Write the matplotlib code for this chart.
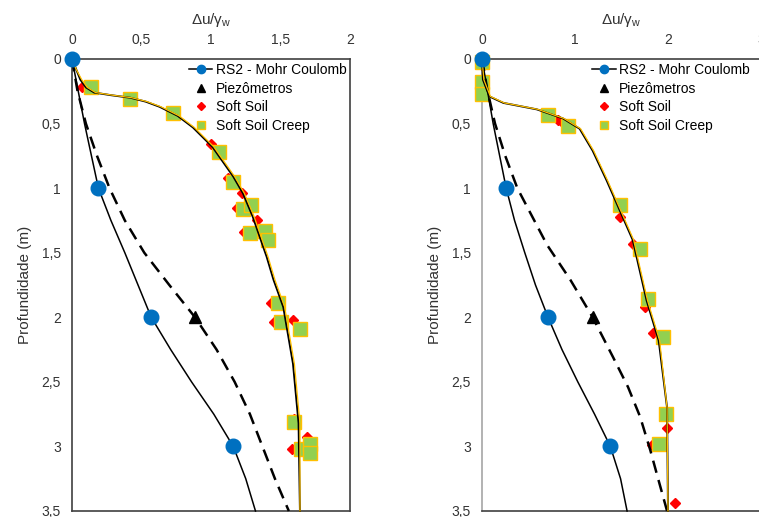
import matplotlib
matplotlib.use("Agg")
import matplotlib.pyplot as plt
from matplotlib.ticker import FixedLocator, FuncFormatter

plt.rcParams['font.family'] = ['Liberation Sans', 'DejaVu Sans']
plt.rcParams['mathtext.default'] = 'regular'

# ---------------- left panel data ----------------
# RS2 - Mohr Coulomb points and curve
L_rs2_pts_x = [0.0, 0.19, 0.57, 1.16]
L_rs2_pts_z = [0.0, 1.0, 2.0, 3.0]
L_rs2_x = [0.0, 0.045, 0.09, 0.14, 0.19, 0.28, 0.38, 0.475, 0.57, 0.71, 0.86, 1.02, 1.16, 1.25, 1.32]
L_rs2_z = [0.0, 0.25, 0.5, 0.75, 1.0, 1.25, 1.5, 1.75, 2.0, 2.25, 2.5, 2.75, 3.0, 3.25, 3.5]

# dashed trend and piezometer reading
L_dash_x = [0.0, 0.04, 0.10, 0.18, 0.27, 0.38, 0.52, 0.70, 0.885, 1.04, 1.17, 1.28, 1.37, 1.46, 1.56]
L_dash_z = [0.0, 0.25, 0.5, 0.75, 1.0, 1.25, 1.5, 1.75, 2.0, 2.25, 2.5, 2.75, 3.0, 3.25, 3.5]
L_piezo_x = [0.885]
L_piezo_z = [2.0]

# Soft Soil / Soft Soil Creep curves
L_ss_x = [0.0, 0.03, 0.06, 0.10, 0.16, 0.28, 0.42, 0.53, 0.63, 0.76, 0.87, 1.01, 1.16, 1.23, 1.30, 1.40, 1.45, 1.52, 1.59, 1.63, 1.64]
L_ss_z = [0.0, 0.08, 0.16, 0.22, 0.26, 0.28, 0.30, 0.33, 0.37, 0.44, 0.53, 0.68, 0.91, 1.04, 1.22, 1.53, 1.71, 1.92, 2.36, 2.82, 3.5]
L_ssc_x = [0.0, 0.03, 0.07, 0.11, 0.17, 0.29, 0.43, 0.54, 0.64, 0.77, 0.88, 1.02, 1.17, 1.24, 1.31, 1.41, 1.46, 1.53, 1.60, 1.64, 1.64]
L_ssc_z = L_ss_z

# markers
L_soft_x = [0.07, 0.74, 1.00, 1.12, 1.22, 1.19, 1.33, 1.24, 1.43, 1.45, 1.59, 1.58, 1.69, 1.60]
L_soft_z = [0.22, 0.40, 0.66, 0.92, 1.04, 1.15, 1.25, 1.34, 1.89, 2.04, 2.02, 3.02, 2.93, 2.79]
L_creep_x = [0.14, 0.42, 0.73, 1.06, 1.16, 1.23, 1.29, 1.28, 1.39, 1.41, 1.48, 1.50, 1.64, 1.60, 1.65, 1.71, 1.71]
L_creep_z = [0.22, 0.31, 0.42, 0.72, 0.95, 1.16, 1.13, 1.35, 1.33, 1.40, 1.89, 2.04, 2.09, 2.81, 3.02, 2.98, 3.05]

# ---------------- right panel data ----------------
R_rs2_pts_x = [0.0, 0.26, 0.71, 1.38]
R_rs2_pts_z = [0.0, 1.0, 2.0, 3.0]
R_rs2_x = [0.0, 0.06, 0.12, 0.19, 0.26, 0.35, 0.46, 0.575, 0.71, 0.86, 1.03, 1.21, 1.38, 1.49, 1.56]
R_rs2_z = [0.0, 0.25, 0.5, 0.75, 1.0, 1.25, 1.5, 1.75, 2.0, 2.25, 2.5, 2.75, 3.0, 3.25, 3.5]

R_dash_x = [0.0, 0.06, 0.14, 0.25, 0.38, 0.70, 0.95, 1.19, 1.41, 1.57, 1.70, 1.81, 1.89, 1.99]
R_dash_z = [0.0, 0.25, 0.5, 0.75, 1.0, 1.44, 1.71, 2.0, 2.31, 2.54, 2.77, 3.03, 3.24, 3.5]
R_piezo_x = [1.19]
R_piezo_z = [2.0]

R_ss_x = [0.0, 0.01, 0.08, 0.23, 0.59, 0.87, 1.05, 1.19, 1.34, 1.48, 1.62, 1.77, 1.90, 1.99, 2.00]
R_ss_z = [0.0, 0.16, 0.29, 0.34, 0.39, 0.46, 0.54, 0.71, 0.94, 1.17, 1.40, 1.87, 2.18, 2.70, 3.5]
R_ssc_x = [0.0, 0.02, 0.09, 0.24, 0.60, 0.88, 1.06, 1.20, 1.35, 1.49, 1.63, 1.78, 1.91, 1.99, 2.00]
R_ssc_z = R_ss_z

R_soft_x = [0.0, 0.0, 0.82, 0.88, 1.48, 1.62, 1.75, 1.84, 1.99, 1.83, 2.08]
R_soft_z = [0.05, 0.2, 0.47, 0.50, 1.22, 1.43, 1.92, 2.12, 2.86, 2.99, 3.44]
R_creep_x = [0.0, 0.0, 0.0, 0.71, 0.93, 1.48, 1.70, 1.78, 1.95, 1.98, 1.90]
R_creep_z = [0.02, 0.18, 0.27, 0.43, 0.52, 1.13, 1.47, 1.86, 2.15, 2.75, 2.98]

depth_ticks = [0, 0.5, 1, 1.5, 2, 2.5, 3, 3.5]

BLUE = '#0070C0'
GREEN = '#92D050'
GOLD = '#FFC000'
DARK = '#404040'


def comma(v, pos):
    s = ('%g' % v)
    return s.replace('.', ',')


def draw_panel(ax, d, xticks, left_spine_color, legend_x):
    # model markers first, model curves drawn over them
    ax.plot(d['soft_x'], d['soft_z'], 'D', color='red', ms=5, mec='red', zorder=3)
    ax.plot(d['creep_x'], d['creep_z'], 's', color=GREEN, mec=GOLD, mew=1.0, ms=9.5, zorder=4)
    ax.plot(d['ss_x'], d['ss_z'], '-', color='black', lw=1.4, zorder=5)
    ax.plot(d['ssc_x'], d['ssc_z'], '-', color=GOLD, lw=0.9, zorder=6)

    ax.plot(d['dash_x'], d['dash_z'], color='black', lw=1.8, dashes=(5, 3), zorder=5)
    ax.plot(d['rs2_x'], d['rs2_z'], '-', color='black', lw=1.1, zorder=5)
    ax.plot(d['rs2_pts_x'], d['rs2_pts_z'], 'o', color=BLUE, ms=10.5, zorder=7)
    ax.plot(d['piezo_x'], d['piezo_z'], '^', color='black', ms=8, zorder=7)

    # legend handles (proxy artists)
    h1, = ax.plot([], [], '-o', color='black', mfc=BLUE, mec=BLUE, ms=6, lw=1.1)
    h2, = ax.plot([], [], '^', color='black', ms=6)
    h3, = ax.plot([], [], 'D', color='red', ms=4)
    h4, = ax.plot([], [], 's', color=GREEN, mec=GOLD, ms=6)
    ax.legend([h1, h2, h3, h4],
              ['RS2 - Mohr Coulomb', 'Piezômetros', 'Soft Soil', 'Soft Soil Creep'],
              loc='upper left', bbox_to_anchor=(legend_x, 1.0), frameon=False,
              fontsize=10, handlelength=1.7, handletextpad=0.25,
              labelspacing=0.33, borderaxespad=0.1, borderpad=0.2)

    ax.set_xlim(xticks[0], xticks[-1])
    ax.set_ylim(3.5, 0)
    ax.xaxis.set_major_locator(FixedLocator(xticks))
    ax.yaxis.set_major_locator(FixedLocator(depth_ticks))
    ax.xaxis.set_major_formatter(FuncFormatter(comma))
    ax.yaxis.set_major_formatter(FuncFormatter(comma))
    ax.xaxis.tick_top()
    ax.xaxis.set_label_position('top')
    ax.tick_params(axis='both', length=0, labelsize=10, colors='#333333')
    ax.tick_params(axis='x', pad=9)
    ax.tick_params(axis='y', pad=8)
    ax.set_xlabel(r'Δu/γ$_{w}$', fontsize=11, labelpad=6, color='#333333')
    ax.set_ylabel('Profundidade (m)', fontsize=11, labelpad=7, color='#333333')

    for side in ['top', 'bottom', 'right']:
        ax.spines[side].set_color(DARK)
        ax.spines[side].set_linewidth(1.2)
    ax.spines['left'].set_color(left_spine_color)
    ax.spines['left'].set_linewidth(1.2)


fig = plt.figure(figsize=(7.59, 5.17), dpi=100)
W, H = 759.0, 517.0
ax_l = fig.add_axes([72 / W, 6 / H, 278 / W, 452 / H])
ax_r = fig.add_axes([482 / W, 6 / H, 279 / W, 452 / H])

left = dict(rs2_pts_x=L_rs2_pts_x, rs2_pts_z=L_rs2_pts_z, rs2_x=L_rs2_x, rs2_z=L_rs2_z,
            dash_x=L_dash_x, dash_z=L_dash_z, piezo_x=L_piezo_x, piezo_z=L_piezo_z,
            ss_x=L_ss_x, ss_z=L_ss_z, ssc_x=L_ssc_x, ssc_z=L_ssc_z,
            soft_x=L_soft_x, soft_z=L_soft_z, creep_x=L_creep_x, creep_z=L_creep_z)
right = dict(rs2_pts_x=R_rs2_pts_x, rs2_pts_z=R_rs2_pts_z, rs2_x=R_rs2_x, rs2_z=R_rs2_z,
             dash_x=R_dash_x, dash_z=R_dash_z, piezo_x=R_piezo_x, piezo_z=R_piezo_z,
             ss_x=R_ss_x, ss_z=R_ss_z, ssc_x=R_ssc_x, ssc_z=R_ssc_z,
             soft_x=R_soft_x, soft_z=R_soft_z, creep_x=R_creep_x, creep_z=R_creep_z)

draw_panel(ax_l, left, [0, 0.5, 1, 1.5, 2], DARK, 0.405)
draw_panel(ax_r, right, [0, 1, 2, 3], '#A6A6A6', 0.38)

for ax in (ax_l, ax_r):
    for ln in ax.lines:
        ln.set_clip_on(False)

fig.savefig('out.png', dpi=100)
